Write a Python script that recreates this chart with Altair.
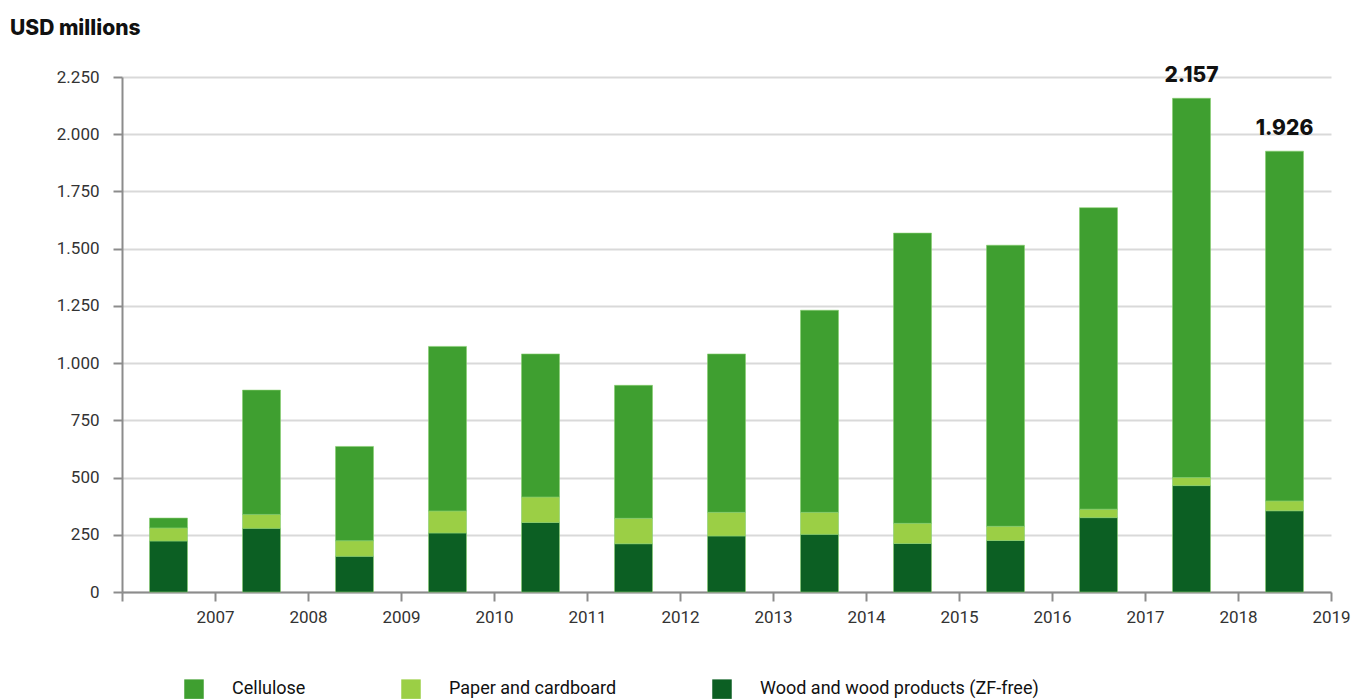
import altair as alt
import pandas as pd

years = list(range(2007, 2020))
categories = ["Cellulose", "Paper and cardboard", "Wood and wood products (ZF-free)"]
colors = ["#3f9f30", "#9bcf45", "#0c5f23"]

wood = [223, 278, 156, 258, 304, 211, 245, 252, 212, 225, 325, 465, 355]
paper = [57, 61, 68, 96, 111, 111, 103, 96, 88, 62, 37, 35, 43]
cellulose = [43, 543, 412, 719, 625, 581, 692, 883, 1268, 1228, 1317, 1657, 1528]

label_years = [2018, 2019]
label_totals = [2157, 1926]

y_ticks = list(range(0, 2251, 250))
x_ticks = list(range(2006, 2020))

rows = []
for i, yr in enumerate(years):
    rows.append({"year": yr, "category": categories[2], "value": wood[i], "stackorder": 0})
    rows.append({"year": yr, "category": categories[1], "value": paper[i], "stackorder": 1})
    rows.append({"year": yr, "category": categories[0], "value": cellulose[i], "stackorder": 2})
df = pd.DataFrame(rows)
labels_df = pd.DataFrame({"year": label_years, "total": label_totals})

xscale = alt.Scale(domain=[2006, 2019], nice=False, zero=False, padding=0)
yscale = alt.Scale(domain=[0, 2250], nice=False, padding=0)

bars = alt.Chart(df).transform_calculate(
    xpos="datum.year - 0.5"
).mark_bar(size=38, stroke="#86cf6e", strokeWidth=0.6).encode(
    x=alt.X("xpos:Q", scale=xscale, title=None,
            axis=alt.Axis(values=x_ticks, grid=False, tickSize=9, tickWidth=2,
                          tickColor="#8c8c8c", domainColor="#8c8c8c", domainWidth=2,
                          labelExpr="datum.value == 2006 ? '' : toString(datum.value)",
                          labelFlush=False, labelOverlap=False,
                          labelFontSize=17, labelColor="#333333", labelPadding=8,
                          labelFont="Roboto")),
    y=alt.Y("value:Q", stack="zero", scale=yscale, title=None,
            axis=alt.Axis(values=y_ticks, grid=True, gridColor="#d9d9d9", gridWidth=2,
                          tickSize=9, tickWidth=2, tickColor="#8c8c8c",
                          domainColor="#8c8c8c", domainWidth=2,
                          labelExpr="replace(format(datum.value, ','), ',', '.')",
                          labelFontSize=17, labelColor="#333333", labelPadding=14,
                          labelFont="Roboto")),
    color=alt.Color("category:N",
                    scale=alt.Scale(domain=categories, range=colors),
                    legend=alt.Legend(orient="none", legendX=62, legendY=602,
                                      direction="horizontal", title=None,
                                      symbolType="square", symbolSize=380,
                                      symbolStrokeWidth=0, labelLimit=0,
                                      labelFontSize=18, labelFont="Roboto",
                                      labelColor="#111111", labelOffset=28,
                                      columnPadding=95)),
    order=alt.Order("stackorder:Q"),
)

texts = alt.Chart(labels_df).transform_calculate(
    xpos="datum.year - 0.5",
    txt="replace(format(datum.total, ','), ',', '.')"
).mark_text(fontSize=21, fontWeight=800, font="Inter", baseline="bottom",
            dy=-12, color="#111111").encode(
    x=alt.X("xpos:Q", scale=xscale),
    y=alt.Y("total:Q", scale=yscale),
    text="txt:N",
)

chart = alt.layer(bars, texts).properties(
    width=1209, height=515,
    autosize=alt.AutoSizeParams(type="none"),
    padding={"left": 122, "top": 77, "right": 21, "bottom": 107},
    title=alt.TitleParams("USD millions", anchor="start", frame="group",
                          font="Inter", fontSize=21, fontWeight=800,
                          color="#111111", dx=-112, offset=26),
).configure_view(stroke=None)

chart.save("out.html", embed_options={"renderer": "svg", "actions": False})
